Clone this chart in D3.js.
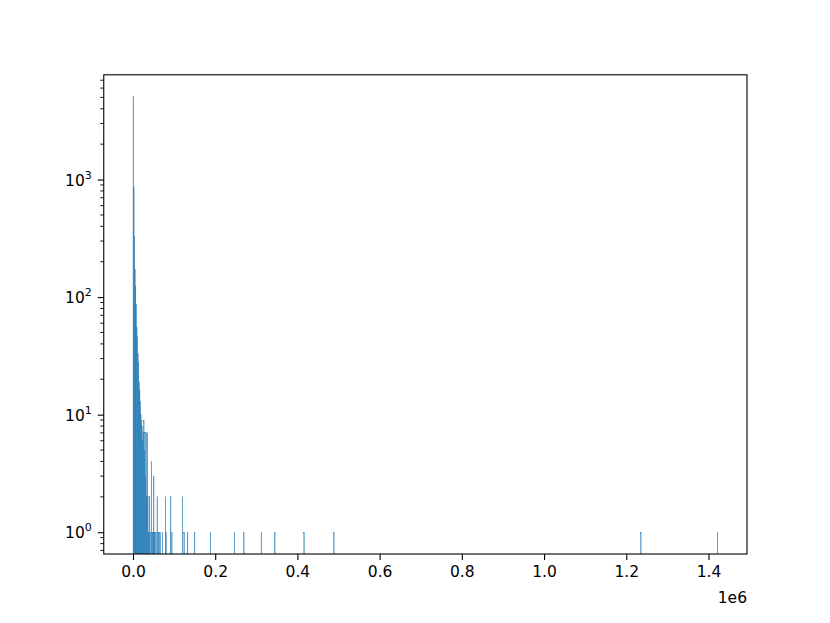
<!DOCTYPE html>
<html><head><meta charset="utf-8">
<script src="https://cdn.jsdelivr.net/npm/d3@7"></script>
<style>body{margin:0;background:#fff}svg{display:block}text{font-family:"DejaVu Sans",sans-serif;fill:#000}</style>
</head><body>
<svg id="c" width="830" height="623"></svg>
<script>
// Histogram: 1000 equal bins between data min and max; only non-empty bins listed
const dataMin = 0;
const dataMax = 1422600;
const nBins = 1000;
const binIndex = [0,1,2,3,4,5,6,7,8,9,10,11,12,13,14,15,16,17,18,19,20,21,22,23,24,25,26,27,28,30,31,33,34,35,36,37,39,41,43,44,46,50,55,56,64,66,84,87,93,105,132,173,189,219,242,292,343,868,999];
const binCount = [5080,850,330,172,123,87,55,46,33,28,19,16,13,10,9,8,6,7,9,5,7,3,7,2,7,2,1,1,2,1,4,1,1,3,1,1,1,2,1,1,1,1,2,1,2,1,2,1,1,1,1,1,1,1,1,1,1,1,1];
const xTicks = [0,0.2e6,0.4e6,0.6e6,0.8e6,1.0e6,1.2e6,1.4e6];
const xTickLabels = ["0.0","0.2","0.4","0.6","0.8","1.0","1.2","1.4"];
const yTickExp = [0,1,2,3];
const offsetLabel = "1e6";

const W=830,H=623;
const L=103.75,R=747,T=74.8,B=554;
const svg=d3.select("#c");
const binW=(dataMax-dataMin)/nBins;
const xm=(dataMax-dataMin)*0.05;
const x=d3.scaleLinear().domain([dataMin-xm,dataMax+xm]).range([L,R]);
const lmax=Math.log10(d3.max(binCount)), lm=lmax*0.05;
const y=d3.scaleLog().domain([Math.pow(10,-lm),Math.pow(10,lmax+lm)]).range([B,T]);

svg.append("clipPath").attr("id","clip").append("rect").attr("x",L).attr("y",T).attr("width",R-L).attr("height",B-T);
const bins=binIndex.map((b,i)=>({x0:dataMin+b*binW,x1:dataMin+(b+1)*binW,c:binCount[i]}));
svg.append("g").attr("clip-path","url(#clip)").selectAll("rect").data(bins).join("rect")
  .attr("x",d=>x(d.x0)).attr("width",d=>x(d.x1)-x(d.x0))
  .attr("y",d=>y(d.c)).attr("height",d=>B+5-y(d.c))
  .attr("fill","#1f77b4").attr("stroke","#1f77b4").attr("stroke-width",0.25);

// frame
svg.append("rect").attr("x",L).attr("y",T).attr("width",R-L).attr("height",B-T)
  .attr("fill","none").attr("stroke","#000").attr("stroke-width",1.1);

// x axis
const gx=svg.append("g").attr("transform",`translate(0,${B})`);
const xAxis=d3.axisBottom(x).tickValues(xTicks).tickFormat((d,i)=>xTickLabels[i]).tickSize(6).tickPadding(6);
gx.call(xAxis);
gx.select(".domain").remove();
gx.selectAll("line").attr("stroke","#000").attr("stroke-width",1.1);
gx.selectAll("text").attr("font-size","15.5px").attr("font-family","DejaVu Sans").attr("fill","#000");
svg.append("text").attr("x",R).attr("y",603).attr("text-anchor","end").attr("font-size","15.5px").text(offsetLabel);

// y axis major ticks
const gy=svg.append("g").attr("transform",`translate(${L},0)`);
const yMajor=yTickExp.map(e=>Math.pow(10,e));
const yAxis=d3.axisLeft(y).tickValues(yMajor).tickFormat("").tickSize(6);
gy.call(yAxis);
gy.select(".domain").remove();
gy.selectAll("line").attr("stroke","#000").attr("stroke-width",1.1);
// minor ticks
const [d0,d1]=y.domain();
const minor=[];
for(let e=-1;e<=4;e++)for(let m=2;m<=9;m++){const v=m*Math.pow(10,e);if(v>=d0&&v<=d1)minor.push(v);}
svg.append("g").selectAll("line").data(minor).join("line")
  .attr("x1",L-3.5).attr("x2",L).attr("y1",d=>y(d)).attr("y2",d=>y(d))
  .attr("stroke","#000").attr("stroke-width",0.9);
// y labels
const yl=svg.append("g").selectAll("text").data(yTickExp).join("text")
  .attr("x",L-12).attr("y",d=>y(Math.pow(10,d))+6).attr("text-anchor","end").attr("font-size","15.5px");
yl.append("tspan").text("10");
yl.append("tspan").attr("dy","-7").attr("font-size","11px").text(d=>d);
</script>
</body></html>
